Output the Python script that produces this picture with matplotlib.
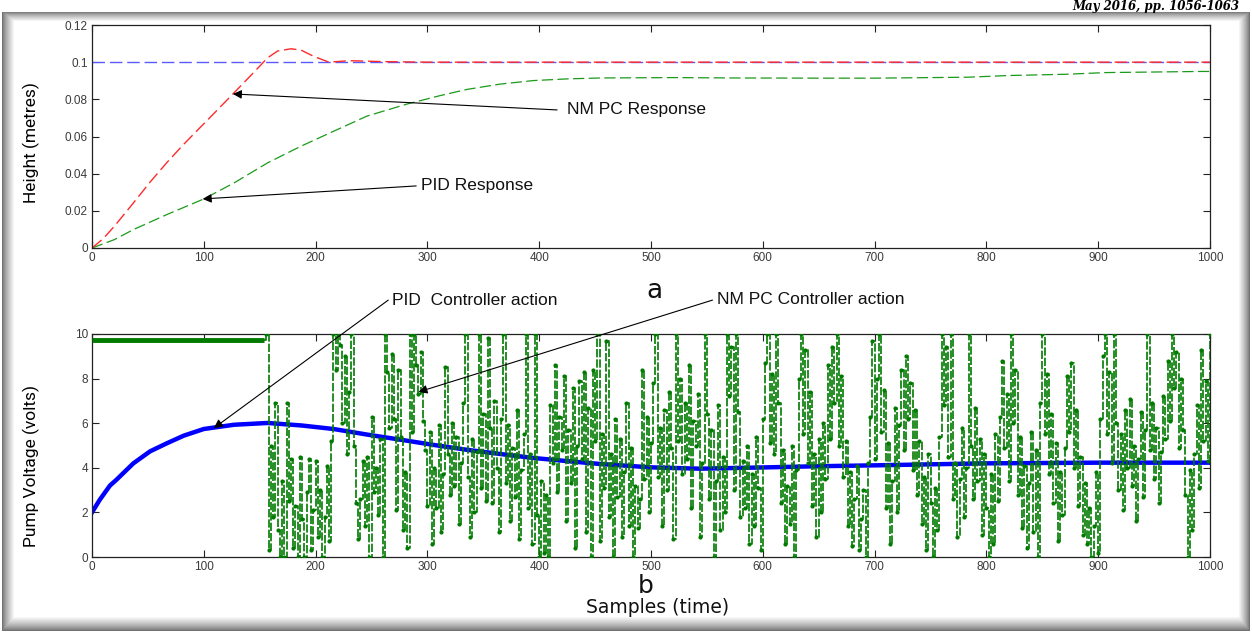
import numpy as np
import matplotlib
matplotlib.use("Agg")
import matplotlib.pyplot as plt

# ---------------- data ----------------
sp_t = [0, 1000]
sp_h = [0.1, 0.1]

nmpc_t = [0, 10, 20, 37, 52, 67, 82, 97, 112, 127, 142, 157, 166, 178, 187, 198, 212,
          230, 260, 300, 1000]
nmpc_h = [0, 0.005, 0.0117, 0.0242, 0.0355, 0.046, 0.0558, 0.065, 0.0742, 0.0835,
          0.0928, 0.1023, 0.106, 0.1072, 0.1065, 0.1032, 0.1, 0.1008, 0.1003, 0.1, 0.1]

pid_t = [0, 20, 37, 67, 100, 127, 157, 187, 216, 246, 282, 310, 335, 365, 395, 425, 455,
         520, 574, 652, 700, 783, 819, 872, 907, 950, 991, 1000]
pid_h = [0, 0.0045, 0.0099, 0.018, 0.0264, 0.035, 0.0458, 0.0548, 0.0628, 0.071, 0.0775,
         0.0818, 0.0853, 0.0882, 0.0901, 0.091, 0.0915, 0.0917, 0.0915, 0.0914, 0.0914,
         0.0919, 0.0928, 0.0935, 0.0944, 0.0947, 0.095, 0.095]

pidu_t = [0, 7, 16, 22, 37, 52, 67, 82, 100, 127, 157, 187, 216, 246, 276, 305, 335, 365,
          395, 425, 455, 500, 544, 604, 649, 700, 800, 900, 1000]
pidu_v = [2.0, 2.57, 3.2, 3.47, 4.2, 4.74, 5.1, 5.44, 5.74, 5.93, 6.01, 5.9, 5.74, 5.49,
          5.26, 5.03, 4.81, 4.62, 4.44, 4.3, 4.17, 4.02, 3.96, 4.02, 4.07, 4.11, 4.2,
          4.23, 4.23]

nmpc_hold_t = [0, 154]
nmpc_hold_v = [9.75, 9.75]

nmpc_start = 156
nmpc_step = 2
nmpc_u = [
    10, 0.3, 5.0, 1.8, 6.9, 1.2, 0, 3.4, 0, 6.9,
    2.5, 4.4, 0.4, 2.3, 0, 4.5, 1.7, 0, 2.9, 4.4,
    0.3, 2.1, 4.3, 0.9, 3.0, 0, 1.8, 4.1, 0.7, 5.2,
    10, 8.4, 10, 9.5, 6.0, 9.0, 4.6, 7.4, 10, 5.0,
    2.4, 0.8, 2.6, 4.3, 1.4, 4.5, 0, 6.3, 2.9, 4.0,
    1.9, 5.3, 0, 10, 8.3, 5.8, 9.1, 6.2, 2.1, 8.4,
    5.4, 1.2, 3.8, 0.4, 10, 5.6, 10, 8.6, 7.3, 9.2,
    6.1, 4.8, 2.3, 5.6, 0.6, 4.0, 2.2, 5.9, 1.1, 3.7,
    8.5, 4.6, 2.8, 6.0, 3.2, 5.4, 1.5, 4.2, 6.9, 10,
    3.6, 0.9, 5.3, 2.0, 4.7, 10, 3.1, 6.4, 2.5, 9.8,
    5.8, 2.4, 7.0, 4.0, 1.1, 6.2, 10, 3.3, 5.9, 1.6,
    4.9, 2.7, 6.6, 0.8, 3.9, 5.5, 10, 2.2, 4.6, 0.6,
    10, 1.9, 0, 3.4, 0.2, 2.8, 0, 6.8, 4.2, 8.6,
    2.9, 6.3, 4.8, 8.1, 1.6, 5.7, 3.3, 7.6, 0.4, 5.0,
    7.9, 4.4, 8.3, 1.1, 6.7, 0, 8.4, 5.2, 10, 0.7,
    5.5, 3.1, 9.7, 1.8, 4.6, 0, 6.2, 2.7, 5.3, 0.9,
    3.8, 6.9, 1.4, 4.9, 0, 3.2, 1.3, 2.6, 8.4, 3.5,
    6.3, 2.0, 5.1, 7.8, 10, 3.6, 5.8, 1.4, 6.6, 3.0,
    7.4, 4.9, 0.8, 10, 5.2, 8.0, 3.7, 6.9, 4.4, 8.6,
    2.2, 6.1, 5.0, 7.3, 0.9, 4.2, 10, 6.4, 2.6, 5.7,
    0, 3.4, 6.8, 1.2, 4.5, 2.0, 10, 7.2, 9.4, 3.0,
    10, 6.5, 1.8, 4.3, 2.2, 5.0, 0.6, 3.7, 1.4, 5.4,
    3.1, 0.3, 6.2, 8.7, 10, 5.1, 8.2, 4.6, 10, 6.9,
    2.4, 4.8, 0.6, 3.2, 1.5, 5.0, 0, 3.9, 8.0, 10,
    5.5, 9.3, 4.2, 7.4, 2.3, 4.6, 0.9, 5.3, 2.0, 6.0,
    3.5, 8.6, 5.3, 9.4, 6.9, 10, 5.0, 8.1, 3.6, 5.2,
    1.4, 3.8, 0.5, 2.6, 4.1, 0.3, 1.7, 3.0, 0, 4.2,
    6.3, 9.7, 4.4, 8.0, 10, 5.6, 7.5, 2.2, 5.1, 0.6,
    3.4, 6.7, 2.0, 5.9, 8.4, 4.8, 9.0, 6.2, 7.8, 3.9,
    6.6, 2.8, 5.2, 1.5, 3.6, 0.3, 4.6, 2.4, 0, 3.1,
    1.2, 5.4, 10, 6.8, 9.4, 4.5, 10, 2.6, 4.2, 0.9,
    3.5, 5.8, 1.8, 4.0, 10, 5.0, 2.6, 6.7, 3.4, 5.3,
    1.0, 4.6, 2.2, 0, 3.7, 0.6, 5.5, 2.5, 6.3, 8.8,
    4.9, 7.3, 3.4, 10, 6.0, 8.4, 2.8, 5.4, 1.3, 4.1,
    0.4, 3.3, 5.6, 1.1, 4.8, 0, 6.9, 10, 5.5, 8.2,
    3.7, 6.4, 2.4, 5.1, 0.7, 3.8, 1.9, 4.9, 8.1, 5.6,
    8.7, 4.0, 6.6, 2.3, 4.5, 1.0, 3.3, 0.6, 2.2, 0,
    1.4, 3.8, 0.2, 6.2, 9.0, 10, 5.5, 8.3, 4.2, 10,
    6.0, 3.0, 5.5, 2.1, 6.6, 4.0, 7.1, 3.2, 5.0, 1.6,
    4.4, 6.5, 2.7, 5.7, 10, 4.8, 6.9, 3.5, 5.8, 2.4,
    4.7, 7.2, 5.3, 8.8, 6.1, 10, 7.6, 9.2, 4.9, 8.0,
    5.7, 2.8, 0, 3.9, 1.2, 4.6, 6.8, 3.1, 9.3, 5.2,
    7.9, 4.3, 10,
]

x_ticks = [0, 100, 200, 300, 400, 500, 600, 700, 800, 900, 1000]
h_ticks = [0, 0.02, 0.04, 0.06, 0.08, 0.1, 0.12]
h_ticklabels = ["0", "0.02", "0.04", "0.06", "0.08", "0.1", "0.12"]
v_ticks = [0, 2, 4, 6, 8, 10]

# ---------------- figure ----------------
W, H = 1252, 632
fig = plt.figure(figsize=(W / 100, H / 100), dpi=100)
fig.patch.set_facecolor("white")

# shadow frame (decoration)
bg = fig.add_axes([0, 0, 1, 1], zorder=-10)
yy, xx = np.mgrid[0:H, 0:W]
def band(d, width, dark):
    v = np.clip(d / width, 0, 1)
    return dark + (1 - dark) * v ** 0.8
left = np.where((xx >= 2) & (yy >= 12), band(xx - 2, 12, 0.45), 1)
right = np.where((xx <= 1249) & (yy >= 12), band(1249 - xx, 11, 0.45), 1)
top = np.where((yy >= 12) & (xx >= 2) & (xx <= 1249), band(yy - 12, 9, 0.5), 1)
bottom = np.where(yy <= 630, band(630 - yy, 14, 0.45), 1)
shade = np.minimum(np.minimum(left, right), np.minimum(top, bottom))
shade[(yy < 12)] = 1
shade[(xx < 2) | (xx > 1249) | (yy > 630)] = 1
img = np.dstack([shade] * 3)
bg.imshow(img, extent=[0, W, H, 0], aspect="auto", interpolation="bilinear")
bg.set_xlim(0, W)
bg.set_ylim(H, 0)
bg.axis("off")

fig.text(0.99, 1 - 10 / H, "May 2016, pp. 1056-1063", ha="right", va="baseline",
         fontsize=8.5, family="DejaVu Serif", style="italic", fontweight="bold")

tick_color = "#3a3a3a"
label_family = ["Roboto", "DejaVu Sans"]

def style_axes(ax):
    ax.tick_params(direction="in", length=5, width=0.8, top=True, right=True,
                   labelsize=8.5, labelcolor=tick_color, color="#222222", pad=3)
    for s in ax.spines.values():
        s.set_linewidth(0.9)
        s.set_color("#222222")
    for lab in ax.get_xticklabels() + ax.get_yticklabels():
        lab.set_family("Liberation Sans")

ax1 = fig.add_axes([92 / W, 1 - 248 / H, (1210 - 92) / W, 223 / H])
ax2 = fig.add_axes([92 / W, 1 - 557 / H, (1210 - 92) / W, 223 / H])

# top plot
ax1.plot(sp_t, sp_h, color="#5a5aff", lw=1.0, dashes=(9, 3.5))
ax1.plot(pid_t, pid_h, color="#1a9a1a", lw=0.9, dashes=(9, 3.5))
ax1.plot(nmpc_t, nmpc_h, color="#ff2a2a", lw=1.0, dashes=(9, 3.5))
ax1.set_xlim(0, 1000)
ax1.set_ylim(0, 0.12)
ax1.set_xticks(x_ticks)
ax1.set_yticks(h_ticks)
ax1.set_yticklabels(h_ticklabels)
style_axes(ax1)
ax1.set_ylabel("Height (metres)", family=label_family, fontsize=12.5)
ax1.yaxis.set_label_coords(-0.0465, 0.475)

arrow_kw = dict(arrowstyle="-|>", lw=0.8, color="black", mutation_scale=13,
                shrinkA=0, shrinkB=0)
ax1.annotate("", xy=(126, 0.0829), xytext=(416, 0.0743), arrowprops=arrow_kw)
ax1.text(425, 0.0743, "NM PC Response", fontsize=12.5, family="Liberation Sans",
         va="center", ha="left", color="#111111")
ax1.annotate("", xy=(99, 0.0264), xytext=(290, 0.0334), arrowprops=arrow_kw)
ax1.text(294, 0.0337, "PID Response", fontsize=12.5, family="Liberation Sans",
         va="center", ha="left", color="#111111")

# bottom plot
ax2.plot(pidu_t, pidu_v, color="#0000ff", lw=3.2, zorder=2)
ax2.plot(nmpc_hold_t, nmpc_hold_v, color="#007a00", lw=3.5, zorder=3, solid_capstyle="butt")
nmpc_x = np.arange(len(nmpc_u)) * nmpc_step + nmpc_start
ax2.plot(np.r_[nmpc_hold_t[-1], nmpc_x], np.r_[nmpc_hold_v[-1], nmpc_u],
         color="#007a00", lw=1.2, dashes=(5, 1.2), drawstyle="steps-post",
         zorder=3)
ax2.plot(nmpc_x, nmpc_u, linestyle="none", marker=".", ms=4, color="#007a00", zorder=3)
ax2.set_xlim(0, 1000)
ax2.set_ylim(0, 10)
ax2.set_xticks(x_ticks)
ax2.set_yticks(v_ticks)
style_axes(ax2)
ax2.set_ylabel("Pump Voltage (volts)", family=label_family, fontsize=12.5)
ax2.yaxis.set_label_coords(-0.0465, 0.41)

ax2.annotate("", xy=(109, 5.78), xytext=(265, 11.52), arrowprops=arrow_kw,
             annotation_clip=False)
ax2.text(268, 11.52, "PID  Controller action", fontsize=12.5, family="Liberation Sans",
         va="center", ha="left", color="#111111", clip_on=False)
ax2.annotate("", xy=(292, 7.4), xytext=(555, 11.52), arrowprops=arrow_kw,
             annotation_clip=False)
ax2.text(559, 11.55, "NM PC Controller action", fontsize=12.5, family="Liberation Sans",
         va="center", ha="left", color="#111111", clip_on=False)

fig.text(654 / W, 1 - 298 / H, "a", fontsize=19, ha="center", va="baseline", color="#111111")
fig.text(646 / W, 1 - 593 / H, "b", fontsize=18, ha="center", va="baseline", color="#111111")
fig.text(658 / W, 1 - 613 / H, "Samples (time)", fontsize=13.5, ha="center", va="baseline",
         color="#111111", family="DejaVu Sans")

fig.savefig("out.png", dpi=100, facecolor="white")
